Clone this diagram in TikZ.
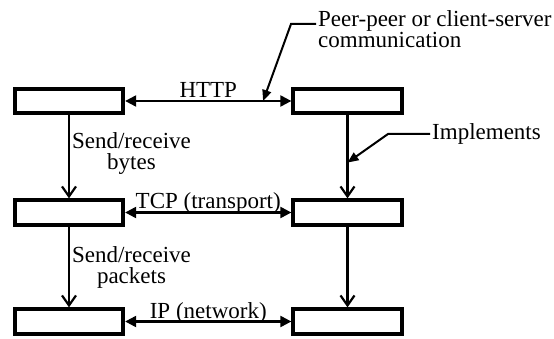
\documentclass[tikz,border=0pt]{standalone}
\usepackage{fontspec}
\setmainfont{Liberation Serif}
\usetikzlibrary{arrows.meta}

\begin{document}
\begin{tikzpicture}[x=1pt, y=-1pt,
	font=\fontsize{23}{21}\selectfont,
	layer/.style={draw, line width=3.8pt, minimum width=108.5pt,
		minimum height=24.5pt, inner sep=0pt},
	talk/.style={{Triangle[length=11pt,width=11pt]}-{Triangle[length=11pt,width=11pt]},
		line width=2.2pt},
	stack/.style={-{Straight Barb[length=10pt,width=14pt]}, line width=2.2pt},
	leader/.style={-{Triangle[length=11pt,width=9pt]}, line width=2pt}]
	\useasboundingbox (0,0) rectangle (554,339);

	\foreach \r/\y in {a/101,b/212.5,c/321.5} {
			\node[layer] (l\r) at (69,\y) {};
			\node[layer] (r\r) at (347.5,\y) {};
		}

	\draw[talk] (la) -- coordinate[pos=0.83] (httpmark)
	node[anchor=base, yshift=3pt, inner sep=0pt] {HTTP} (ra);
	\draw[talk] (lb) -- node[anchor=base, yshift=4pt, inner sep=0pt]
	{TCP (transport)} (rb);
	\draw[talk] (lc) -- node[anchor=base, yshift=3pt, inner sep=0pt]
	{IP (network)} (rc);

	\draw[stack] (la) -- node[right, align=center, inner sep=2pt, yshift=3pt]
	{Send/receive\\bytes} (lb);
	\draw[stack] (lb) -- node[right, align=center, inner sep=2pt]
	{Send/receive\\packets} (lc);
	\draw[stack] (ra) -- coordinate[pos=0.57] (implmark) (rb);
	\draw[stack] (rb) -- (rc);

	\node[anchor=north west, align=left, inner sep=2pt] (peertext) at (316,8.5)
	{Peer-peer or client-server\\communication};
	\draw[leader] ([yshift=-15.5pt]peertext.north west) -- ++(-25,0) -- (httpmark);

	\node[anchor=west, inner sep=2pt] (impltext) at (430,134) {Implements};
	\draw[leader] (impltext.west) -- ++(-42,0) -- (implmark);
\end{tikzpicture}
\end{document}
